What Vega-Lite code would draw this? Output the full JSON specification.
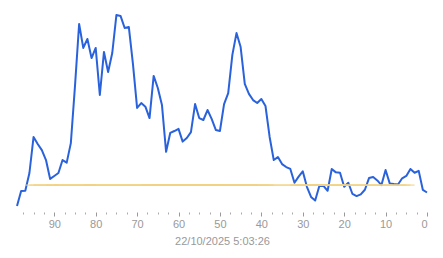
{
  "$schema": "https://vega.github.io/schema/vega-lite/v6.json",
  "width": 410,
  "height": 212,
  "autosize": {"type": "none"},
  "padding": {"left": 17, "top": 0, "right": 16, "bottom": 46},
  "config": {"view": {"stroke": null}, "font": "Liberation Sans"},
  "data": {"values": [
    {"t": 99, "v": 2.8}, {"t": 98, "v": 9.9}, {"t": 97, "v": 10.0}, {"t": 96, "v": 18.4},
    {"t": 95, "v": 35.4}, {"t": 94, "v": 32.1}, {"t": 93, "v": 29.2}, {"t": 92, "v": 24.5},
    {"t": 91, "v": 15.6}, {"t": 90, "v": 17.0}, {"t": 89, "v": 18.4}, {"t": 88, "v": 24.5},
    {"t": 87, "v": 23.3}, {"t": 86, "v": 32.5}, {"t": 85, "v": 59.4}, {"t": 84, "v": 88.7},
    {"t": 83, "v": 77.4}, {"t": 82, "v": 81.6}, {"t": 81, "v": 72.6}, {"t": 80, "v": 77.4},
    {"t": 79, "v": 55.2}, {"t": 78, "v": 75.5}, {"t": 77, "v": 66.0}, {"t": 76, "v": 75.0},
    {"t": 75, "v": 92.9}, {"t": 74, "v": 92.5}, {"t": 73, "v": 86.8}, {"t": 72, "v": 87.3},
    {"t": 71, "v": 69.8}, {"t": 70, "v": 49.1}, {"t": 69, "v": 51.4}, {"t": 68, "v": 49.7},
    {"t": 67, "v": 44.3}, {"t": 66, "v": 64.2}, {"t": 65, "v": 58.5}, {"t": 64, "v": 50.5},
    {"t": 63, "v": 28.4}, {"t": 62, "v": 37.3}, {"t": 61, "v": 38.2}, {"t": 60, "v": 39.2},
    {"t": 59, "v": 33.2}, {"t": 58, "v": 34.9}, {"t": 57, "v": 37.7}, {"t": 56, "v": 50.9},
    {"t": 55, "v": 44.3}, {"t": 54, "v": 43.4}, {"t": 53, "v": 48.1}, {"t": 52, "v": 43.9},
    {"t": 51, "v": 38.7}, {"t": 50, "v": 38.2}, {"t": 49, "v": 50.9}, {"t": 48, "v": 56.1},
    {"t": 47, "v": 74.1}, {"t": 46, "v": 84.4}, {"t": 45, "v": 77.8}, {"t": 44, "v": 60.4},
    {"t": 43, "v": 55.7}, {"t": 42, "v": 52.8}, {"t": 41, "v": 51.4}, {"t": 40, "v": 53.3},
    {"t": 39, "v": 50.0}, {"t": 38, "v": 35.4}, {"t": 37, "v": 24.5}, {"t": 36, "v": 25.9},
    {"t": 35, "v": 22.6}, {"t": 34, "v": 21.2}, {"t": 33, "v": 20.3}, {"t": 32, "v": 13.8},
    {"t": 31, "v": 16.7}, {"t": 30, "v": 19.2}, {"t": 29, "v": 11.9}, {"t": 28, "v": 7.1},
    {"t": 27, "v": 5.4}, {"t": 26, "v": 12.3}, {"t": 25, "v": 12.3}, {"t": 24, "v": 10.0},
    {"t": 23, "v": 20.3}, {"t": 22, "v": 18.7}, {"t": 21, "v": 18.5}, {"t": 20, "v": 11.9},
    {"t": 19, "v": 13.8}, {"t": 18, "v": 8.5}, {"t": 17, "v": 7.5}, {"t": 16, "v": 8.3},
    {"t": 15, "v": 10.5}, {"t": 14, "v": 16.0}, {"t": 13, "v": 16.5}, {"t": 12, "v": 14.9},
    {"t": 11, "v": 12.7}, {"t": 10, "v": 19.8}, {"t": 9, "v": 13.5}, {"t": 8, "v": 13.2},
    {"t": 7, "v": 13.0}, {"t": 6, "v": 15.9}, {"t": 5, "v": 17.0}, {"t": 4, "v": 20.3},
    {"t": 3, "v": 18.5}, {"t": 2, "v": 19.4}, {"t": 1, "v": 10.4}, {"t": 0, "v": 9.2}
  ]},
  "encoding": {
    "x": {
      "field": "t", "type": "quantitative",
      "scale": {"domain": [0, 99], "reverse": true, "nice": false, "zero": false}
    },
    "y": {"field": "v", "type": "quantitative", "scale": {"domain": [0, 100], "nice": false}, "axis": null}
  },
  "layer": [
    {
      "mark": {"type": "line", "color": "#2a62dc", "strokeWidth": 2, "strokeJoin": "round"},
      "encoding": {
        "x": {
          "field": "t", "type": "quantitative",
          "axis": {
            "values": [0, 10, 20, 30, 40, 50, 60, 70, 80, 90],
            "domain": false,
            "grid": false,
            "tickSize": 4,
            "tickColor": "#999999",
            "labelColor": "#999999",
            "labelFontSize": 11,
            "labelPadding": 2,
            "title": "22/10/2025 5:03:26",
            "titleColor": "#999999",
            "titleFontSize": 11,
            "titleFontWeight": "normal",
            "titlePadding": 6
          }
        }
      }
    },
    {
      "mark": {"type": "rule", "color": "#f2d27e", "strokeWidth": 1},
      "encoding": {
        "x": {
          "field": "t", "type": "quantitative", "aggregate": "max",
          "axis": {
            "values": [2.5, 5, 7.5, 12.5, 15, 17.5, 22.5, 25, 27.5, 32.5, 35, 37.5, 42.5, 45, 47.5, 52.5, 55, 57.5, 62.5, 65, 67.5, 72.5, 75, 77.5, 82.5, 85, 87.5, 92.5, 95, 97.5],
            "orient": "bottom",
            "domain": false,
            "grid": false,
            "labels": false,
            "tickSize": 2,
            "tickColor": "#aaaaaa",
            "title": null
          }
        },
        "x2": {"field": "t", "aggregate": "min"},
        "y": {"datum": 12.7, "type": "quantitative"}
      }
    }
  ],
  "resolve": {"axis": {"x": "independent"}}
}
